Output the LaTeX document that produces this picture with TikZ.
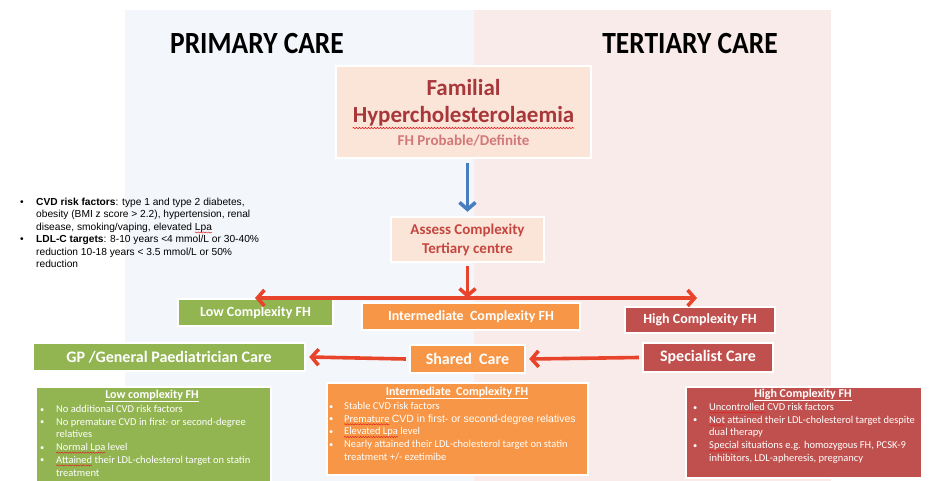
\documentclass[tikz,border=0pt]{standalone}
\usepackage{fontspec}
\setmainfont{Carlito}
\newfontfamily\arial{Liberation Sans}
\usetikzlibrary{arrows.meta,shadows,decorations.pathmorphing}
\definecolor{bgblue}{HTML}{F3F7FC}
\definecolor{bgpink}{HTML}{FAEBEB}
\definecolor{fhfill}{HTML}{FBE5D9}
\definecolor{fhtext}{HTML}{A8373A}
\definecolor{fhsub}{HTML}{D27878}
\definecolor{asstext}{HTML}{C4463F}
\definecolor{cgreen}{HTML}{92B552}
\definecolor{corange}{HTML}{F79646}
\definecolor{cred}{HTML}{C0504D}
\definecolor{arrred}{HTML}{E8442B}
\definecolor{arrblue}{HTML}{4A7DBF}
\definecolor{squig}{HTML}{E02020}
\tikzset{
  box/.style={draw=white, line width=2.4pt, inner sep=0pt, align=center,
    drop shadow={shadow xshift=1.2pt, shadow yshift=-1.2pt, opacity=0.3}},
  lab/.style={box, text=white, font=\bfseries\fontsize{14}{16}\selectfont},
  conn/.style={line width=3.6pt, arrred, -{Straight Barb[length=7pt,width=16pt]}},
  hdr/.style={inner sep=0pt},
  blist/.style={inner sep=0pt, anchor=north west, text=white, align=left,
    font=\fontsize{10.5}{12.7}\selectfont},
  btitle/.style={inner sep=0pt, text=white, font=\bfseries\fontsize{12}{14}\selectfont},
  squigline/.style={squig, line width=0.45pt, decorate,
    decoration={snake, amplitude=0.6pt, segment length=2.6pt}},
}
\newcommand\bl{\raisebox{0.5pt}{\scalebox{0.8}{\textbullet}}}
\newsavebox\sqbox
\newcommand\sq[1]{\sbox\sqbox{#1}\rlap{\tikz[overlay,baseline=0pt]\draw[squigline] (0pt,-2pt) -- (\wd\sqbox,-2pt);}\usebox\sqbox}
\newcommand\hdrtext[1]{\scalebox{1}[1.12]{\bfseries\fontsize{27.5}{30}\selectfont #1}}
\begin{document}
\begin{tikzpicture}[x=1pt,y=-1pt]
\useasboundingbox (0,0) rectangle (929,481);
\fill[white] (0,0) rectangle (929,481);
% panels
\fill[bgblue] (125,10) rectangle (474,481);
\fill[bgpink] (474,10) rectangle (831,481);
\node[hdr] (prim) at (257,44) {\hdrtext{PRIMARY CARE}};
\node[hdr] (tert) at (690,44) {\hdrtext{TERTIARY CARE}};
% FH box
\node[box, fill=fhfill, minimum width=255, minimum height=92] (fh) at (463.5,112) {};
\node[inner sep=0pt, text=fhtext, font=\bfseries\fontsize{23}{26}\selectfont] (fh1) at (463.5,88) {Familial};
\node[inner sep=0pt, text=fhtext, font=\bfseries\fontsize{23}{26}\selectfont] (fh2) at (463.5,116) {Hypercholesterolaemia};
\node[inner sep=0pt, text=fhsub, font=\bfseries\fontsize{15}{17}\selectfont] (fh3) at (463.5,141) {FH Probable/Definite};
\draw[squigline, line width=0.6pt, decoration={snake, amplitude=0.7pt, segment length=3pt}]
  ([yshift=-2pt]fh2.south west) -- ([yshift=-2pt]fh2.south east);
% Assess
\node[box, fill=fhfill, minimum width=153, minimum height=45, text=asstext,
  font=\bfseries\fontsize{15}{19}\selectfont] (ass) at (467.5,239.5) {Assess Complexity\\Tertiary centre};
% complexity labels
\node[lab, fill=cgreen, minimum width=155, minimum height=27] (low) at (255.5,312.5) {Low Complexity FH};
\node[lab, fill=corange, minimum width=218, minimum height=27] (int) at (471,316.5) {Intermediate\ \ Complexity FH};
\node[lab, fill=cred, minimum width=150, minimum height=26] (high) at (700,320) {High Complexity FH};
% care labels
\node[lab, fill=cgreen, minimum width=272, minimum height=28, font=\bfseries\fontsize{16}{18}\selectfont] (gp) at (169,357) {GP /General Paediatrician Care};
\node[lab, fill=corange, minimum width=115, minimum height=28, font=\bfseries\fontsize{16}{18}\selectfont] (sh) at (467.5,359) {Shared\ \ Care};
\node[lab, fill=cred, minimum width=130, minimum height=29, font=\bfseries\fontsize{16}{18}\selectfont] (sp) at (708,357.5) {Specialist Care};
% arrows
\draw[line width=3.6pt, arrblue, -{Straight Barb[length=7pt,width=16pt]}] ([yshift=-4pt]fh.south -| ass.north) -- ([yshift=4pt]ass.north);
\coordinate (J) at (467.5,298);
\coordinate (L) at (255,298);
\coordinate (R) at (697,298);
\draw[conn] ([yshift=-3pt]ass.south) -- (J);
\draw[conn] (J) -- (L);
\draw[conn] (J) -- (R);
\draw[conn] ([xshift=-3pt]sp.west) -- ([xshift=3pt]sh.east);
\draw[conn] ([xshift=-3pt]sh.west) -- ([xshift=3pt]gp.east);
% left notes
\node[inner sep=0pt, anchor=north west, align=left, font=\arial\fontsize{10.2}{12.5}\selectfont] (notes) at (20,196.5)
{\begin{tabular}{@{}p{16pt}@{}l@{}}
\textbullet & \textbf{CVD risk factors}: type 1 and type 2 diabetes,\\
 & obesity (BMI z score > 2.2), hypertension, renal\\
 & disease, smoking/vaping, elevated \sq{Lpa}\\
\textbullet & \textbf{LDL-C targets}: 8-10 years <4 mmol/L or 30-40\%\\
 & reduction 10-18 years < 3.5 mmol/L or 50\%\\
 & reduction
\end{tabular}};
% bottom boxes
\node[box, fill=cgreen, minimum width=235, minimum height=100, anchor=north west] (lowb) at (35,386) {};
\node[btitle] (lowt) at (152,396) {\underline{Low complexity FH}};
\node[blist] (lowl) at (40,403.5)
{\begin{tabular}{@{}p{16pt}@{}l@{}}
\bl & No additional CVD risk factors\\
\bl & No premature CVD in first- or second-degree\\
 & relatives\\
\bl & \sq{Normal Lpa} level\\
\bl & \sq{Attained} their LDL-cholesterol target on statin\\
 & treatment
\end{tabular}};
\node[box, fill=corange, minimum width=261, minimum height=92, anchor=north west] (intb) at (326,382) {};
\node[btitle] (intt) at (457,393) {\underline{Intermediate\ \ Complexity FH}};
\node[blist] (intl) at (329,400.5)
{\begin{tabular}{@{}p{15pt}@{}l@{}}
\bl & Stable CVD risk factors\\
\bl & \sq{Premature} {\arial\fontsize{10.5}{12.7}\selectfont CVD in first- or second-degree relatives}\\
\bl & \sq{Elevated Lpa} level\\
\bl & Nearly attained their LDL-cholesterol target on statin\\
 & treatment +/- ezetimibe
\end{tabular}};
\node[box, fill=cred, minimum width=236, minimum height=91, anchor=north west] (highb) at (685,386) {};
\node[btitle] (hight) at (803,395) {\underline{High Complexity FH}};
\node[blist] (highl) at (693,401.5)
{\begin{tabular}{@{}p{16pt}@{}l@{}}
\bl & \sq{Uncontrolled} CVD risk factors\\
\bl & \sq{Not} attained their LDL-cholesterol target despite\\
 & dual therapy\\
\bl & \sq{Special} situations e.g. homozygous FH, PCSK-9\\
 & inhibitors, LDL-apheresis, pregnancy
\end{tabular}};
\end{tikzpicture}
\end{document}
